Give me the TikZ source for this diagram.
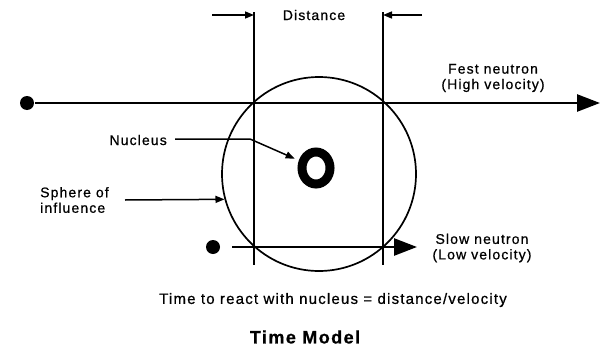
\documentclass[tikz,border=0pt]{standalone}
\usepackage{fontspec}
\setmainfont{Liberation Sans}[LetterSpace=8,FakeBold=0.7]
\usetikzlibrary{arrows.meta,shapes.geometric}
\begin{document}
\begin{tikzpicture}[x=1pt,y=-1pt,
  lbl/.style={font=\fontsize{14}{15.5}\selectfont, inner sep=0pt, align=center},
  dot/.style={circle, fill, inner sep=0pt, minimum size=14pt},
  ray/.style={line width=2.6pt, -{Triangle[length=23pt,width=17pt]}},
  vline/.style={line width=1.8pt},
  lead/.style={line width=1.5pt, -{Triangle[length=9pt,width=7pt]}},
  ring/.style={draw, circle, inner sep=0pt}]
\useasboundingbox (0,0) rectangle (610,348);
% dimension lines
\coordinate (LT) at (254,12);
\coordinate (LB) at (254,265);
\coordinate (RT) at (383,12);
\coordinate (RB) at (383,265);
\draw[vline] (LT) -- (LB);
\draw[vline] (RT) -- (RB);
\coordinate (DL) at (212,15);
\coordinate (DLt) at (254,15);
\coordinate (DR) at (422,15);
\coordinate (DRt) at (383,15);
\draw[lead] (DL) -- (DLt);
\draw[lead] (DR) -- (DRt);
\node[lbl] (dist) at (314,15) {Distance};
% sphere and nucleus
\node[ring, line width=1.7pt, minimum size=194pt] (sphere) at (319,174) {};
\node[draw, ellipse, inner sep=0pt, line width=9pt, minimum width=28pt, minimum height=32pt] (nuc) at (316,168) {};
% fast neutron
\node[dot] (fdot) at (27,103) {};
\coordinate (fend) at (600,103);
\draw[ray, shorten <=1pt] (fdot) -- (fend);
\node[lbl] (fast) at (493,78) {Fest neutron\\(High velocity)};
% slow neutron
\node[dot] (sdot) at (213,247) {};
\coordinate (send) at (417,247);
\draw[ray, shorten <=12pt] (sdot) -- (send);
\node[lbl] (slow) at (482,248) {Slow neutron\\(Low velocity)};
% labels with leaders
\node[lbl, anchor=east] (nl) at (167,140) {Nucleus};
\coordinate (nstart) at (175,139);
\coordinate (nbend) at (250,139);
\draw[lead, shorten >=4.5pt] (nstart) -- (nbend) -- (nuc);
\node[lbl, anchor=west, align=left] (sl) at (40,200) {Sphere of\\influence};
\coordinate (sstart) at (125,200);
\draw[lead] (sstart) -- (sphere.195);
% captions
\node[lbl, font=\fontsize{15}{17}\selectfont] (formula) at (333,300) {Time to react with nucleus = distance/velocity};
\node[lbl, font=\fontsize{18}{20}\bfseries] (title) at (305,337) {Time Model};
\end{tikzpicture}
\end{document}
